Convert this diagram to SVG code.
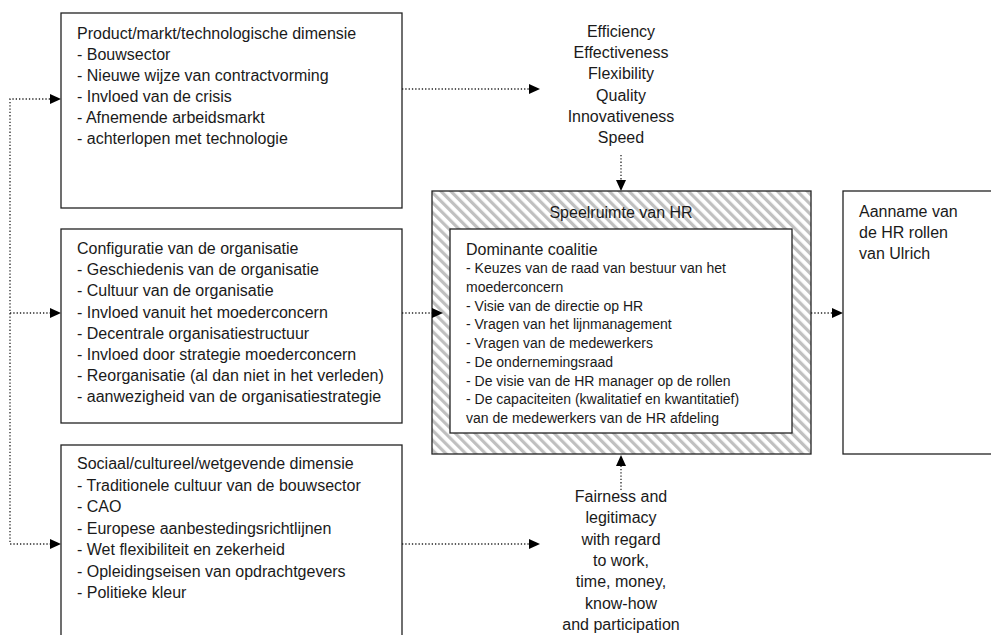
<svg xmlns="http://www.w3.org/2000/svg" width="991" height="635" viewBox="0 0 991 635">
<style>
.box{fill:#fff;stroke:#222;stroke-width:1.3}
.t{font-family:"Liberation Sans",Arial,sans-serif;font-size:16px;fill:#1a1a1a}
.s{font-family:"Liberation Sans",Arial,sans-serif;font-size:14px;fill:#1a1a1a}
.c{text-anchor:middle}
.dot{fill:none;stroke:#222;stroke-width:1.3;stroke-dasharray:1.3 2}
.ah{fill:#000}
</style>
<defs>
<pattern id="hatch" patternUnits="userSpaceOnUse" width="7" height="7" patternTransform="rotate(-45)">
<rect x="0" y="0" width="7" height="7" fill="#fff"/>
<rect x="0" y="0" width="3.2" height="7" fill="#c0c0c0"/>
</pattern>
</defs>
<rect width="991" height="635" fill="#fff"/>

<g id="connectors">
<polyline class="dot" points="50,99 10,99 10,544 50,544"/>
<line class="dot" x1="10" y1="313" x2="50" y2="313"/>
<polygon class="ah" points="50,94 61,99 50,104"/>
<polygon class="ah" points="50,308 61,313 50,318"/>
<polygon class="ah" points="50,539 61,544 50,549"/>
<line class="dot" x1="402" y1="89" x2="529" y2="89"/>
<polygon class="ah" points="529,84 540,89 529,94"/>
<line class="dot" x1="402" y1="544" x2="529" y2="544"/>
<polygon class="ah" points="529,539 540,544 529,549"/>
<line class="dot" x1="621" y1="155" x2="621" y2="180"/>
<polygon class="ah" points="616,180 621,191 626,180"/>
<line class="dot" x1="621" y1="490" x2="621" y2="466"/>
<polygon class="ah" points="616,466 621,455 626,466"/>
</g>

<g id="product">
<rect class="box" x="61" y="13" width="341" height="195"/>
<text class="t" x="77" y="39">Product/markt/technologische dimensie</text>
<text class="t" x="77" y="60">- Bouwsector</text>
<text class="t" x="77" y="81">- Nieuwe wijze van contractvorming</text>
<text class="t" x="77" y="102">- Invloed van de crisis</text>
<text class="t" x="77" y="123">- Afnemende arbeidsmarkt</text>
<text class="t" x="77" y="144">- achterlopen met technologie</text>
</g>

<g id="configuratie">
<rect class="box" x="61" y="229" width="341" height="194"/>
<text class="t" x="77" y="254">Configuratie van de organisatie</text>
<text class="t" x="77" y="275.2">- Geschiedenis van de organisatie</text>
<text class="t" x="77" y="296.4">- Cultuur van de organisatie</text>
<text class="t" x="77" y="317.6">- Invloed vanuit het moederconcern</text>
<text class="t" x="77" y="338.8">- Decentrale organisatiestructuur</text>
<text class="t" x="77" y="360">- Invloed door strategie moederconcern</text>
<text class="t" x="77" y="381.2">- Reorganisatie (al dan niet in het verleden)</text>
<text class="t" x="77" y="402.4">- aanwezigheid van de organisatiestrategie</text>
</g>

<g id="sociaal">
<rect class="box" x="61" y="445" width="341" height="200"/>
<text class="t" x="77" y="469">Sociaal/cultureel/wetgevende dimensie</text>
<text class="t" x="77" y="490.5">- Traditionele cultuur van de bouwsector</text>
<text class="t" x="77" y="512">- CAO</text>
<text class="t" x="77" y="533.5">- Europese aanbestedingsrichtlijnen</text>
<text class="t" x="77" y="555">- Wet flexibiliteit en zekerheid</text>
<text class="t" x="77" y="576.5">- Opleidingseisen van opdrachtgevers</text>
<text class="t" x="77" y="598">- Politieke kleur</text>
</g>

<g id="efficiency">
<text class="t c" x="621" y="37">Efficiency</text>
<text class="t c" x="621" y="58.2">Effectiveness</text>
<text class="t c" x="621" y="79.4">Flexibility</text>
<text class="t c" x="621" y="100.6">Quality</text>
<text class="t c" x="621" y="121.8">Innovativeness</text>
<text class="t c" x="621" y="143">Speed</text>
</g>

<g id="fairness">
<text class="t c" x="621" y="502">Fairness and</text>
<text class="t c" x="621" y="523.3">legitimacy</text>
<text class="t c" x="621" y="544.6">with regard</text>
<text class="t c" x="621" y="565.9">to work,</text>
<text class="t c" x="621" y="587.2">time, money,</text>
<text class="t c" x="621" y="608.5">know-how</text>
<text class="t c" x="621" y="629.8">and participation</text>
</g>

<g id="speelruimte">
<rect x="432" y="191" width="379" height="263" fill="url(#hatch)" stroke="#222" stroke-width="1.3"/>
<text class="t c" x="621" y="218">Speelruimte van HR</text>
</g>

<g id="dominante">
<rect class="box" x="450" y="229" width="342" height="204"/>
<text class="t" x="466" y="255">Dominante coalitie</text>
<text class="s" x="466" y="273">- Keuzes van de raad van bestuur van het</text>
<text class="s" x="466" y="291.75">moederconcern</text>
<text class="s" x="466" y="310.5">- Visie van de directie op HR</text>
<text class="s" x="466" y="329.25">- Vragen van het lijnmanagement</text>
<text class="s" x="466" y="348">- Vragen van de medewerkers</text>
<text class="s" x="466" y="366.75">- De ondernemingsraad</text>
<text class="s" x="466" y="385.5">- De visie van de HR manager op de rollen</text>
<text class="s" x="466" y="404.25">- De capaciteiten (kwalitatief en kwantitatief)</text>
<text class="s" x="466" y="423">van de medewerkers van de HR afdeling</text>
</g>

<g id="connector-hr">
<line class="dot" x1="402" y1="313" x2="432" y2="313"/>
<polygon class="ah" points="432,308 443,313 432,318"/>
<line class="dot" x1="811" y1="313" x2="832" y2="313"/>
<polygon class="ah" points="832,308 843,313 832,318"/>
</g>

<g id="aanname">
<rect class="box" x="843" y="191" width="160" height="263"/>
<text class="t" x="859" y="217">Aanname van</text>
<text class="t" x="859" y="238">de HR rollen</text>
<text class="t" x="859" y="259">van Ulrich</text>
</g>
</svg>
